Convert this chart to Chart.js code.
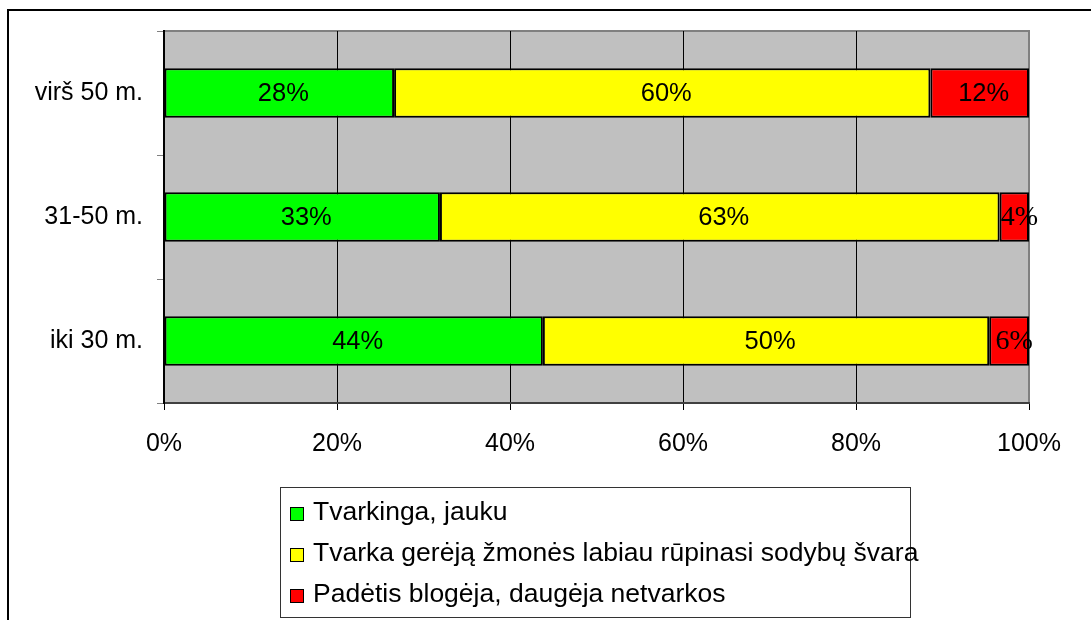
<!DOCTYPE html>
<html lang="lt">
<head>
<meta charset="utf-8">
<title>Sodybų tvarka pagal amžių</title>
<script src="https://cdn.jsdelivr.net/npm/chart.js@4/dist/chart.umd.min.js"></script>
<style>
  html, body { margin: 0; padding: 0; background: #fff; overflow: hidden; }
  #wrap { position: relative; width: 1091px; height: 620px; }
  #frame {
    position: absolute; left: 7px; top: 9px; width: 1200px; height: 800px;
    border: 2px solid #000; box-sizing: border-box;
  }
  #chartBox { position: absolute; left: 0; top: 0; width: 1091px; height: 620px; }
  #legend {
    position: absolute; left: 280px; top: 487px; width: 631px; height: 131px;
    border: 1px solid #333; box-sizing: border-box; background: #fff;
    font-family: "Liberation Sans", Arial, sans-serif; font-size: 26.5px; color: #000;
    padding-top: 3px;
  }
  .item { display: flex; align-items: center; height: 41px; white-space: nowrap; }
  .swatch { width: 12px; height: 12px; border: 1px solid #000; margin: 4px 9px 0 9px; flex: none; }
</style>
</head>
<body>
<div id="wrap">
  <div id="frame"></div>
  <div id="chartBox"><canvas id="chartAge"></canvas></div>
  <div id="legend"></div>
</div>
<script>
// ===== Duomenys =====
const categories = ['virš 50 m.', '31-50 m.', 'iki 30 m.'];
const seriesNames = [
    'Tvarkinga, jauku',
    'Tvarka gerėją žmonės labiau rūpinasi sodybų švara',
    'Padėtis blogėja, daugėja netvarkos'
];
// bar lengths as drawn (share of 100%)
const tvarkinga = [26.6, 31.9, 43.8];
const gereja    = [62.0, 64.7, 51.6];
const blogeja   = [11.4, 3.4, 4.6];
// printed labels
const tvarkingaLabels = ['28%', '33%', '44%'];
const gerejaLabels    = ['60%', '63%', '50%'];
const blogejaLabels   = ['12%', '4%', '6%'];
const xTicks = [0, 20, 40, 60, 80, 100];

const colors = ['#00ff00', '#ffff00', '#ff0000'];
const allLabels = [tvarkingaLabels, gerejaLabels, blogejaLabels];
const SANS = '"Liberation Sans", Arial, sans-serif';
const SERIF = '"Liberation Serif", "Times New Roman", serif';

// ===== Fonas ir rėmelis braižymo zonai =====
const plotBg = {
    id: 'plotBg',
    beforeDraw(chart) {
        const { ctx, chartArea: a } = chart;
        ctx.save();
        ctx.fillStyle = '#c0c0c0';
        ctx.fillRect(a.left, a.top, a.right - a.left, a.bottom - a.top);
        ctx.strokeStyle = '#808080';
        ctx.lineWidth = 2;
        ctx.beginPath();
        ctx.moveTo(a.left, a.top);
        ctx.lineTo(a.right, a.top);
        ctx.lineTo(a.right, a.bottom);
        ctx.stroke();
        ctx.restore();
    }
};

// ===== Reikšmių etiketės stulpeliuose =====
const barLabels = {
    id: 'barLabels',
    afterDatasetsDraw(chart) {
        const ctx = chart.ctx;
        ctx.save();
        ctx.fillStyle = '#000';
        ctx.textAlign = 'center';
        ctx.textBaseline = 'middle';
        chart.data.datasets.forEach((ds, d) => {
            chart.getDatasetMeta(d).data.forEach((bar, i) => {
                // mažos raudonos atkarpos turi kitokį šriftą (kaip originale)
                const serif = d === 2 && i > 0;
                ctx.font = serif ? '28px ' + SERIF : '25.5px ' + SANS;
                const cx = (bar.x + bar.base) / 2 + (serif ? 5 : 4);
                ctx.fillText(allLabels[d][i], cx, bar.y + 1);
            });
        });
        ctx.restore();
    }
};

const ctx = document.getElementById('chartAge').getContext('2d');
const chart = new Chart(ctx, {
    type: 'bar',
    data: {
        labels: categories,
        datasets: [tvarkinga, gereja, blogeja].map((vals, k) => ({
            label: seriesNames[k],
            data: vals,
            backgroundColor: colors[k],
            borderColor: '#000',
            borderWidth: 2,
            borderSkipped: false,
            categoryPercentage: 1,
            barPercentage: 0.4
        }))
    },
    options: {
        indexAxis: 'y',
        responsive: true,
        maintainAspectRatio: false,
        animation: false,
        layout: { padding: { left: 0, top: 31, right: 62, bottom: 157 } },
        plugins: { legend: { display: false }, tooltip: { enabled: false } },
        scales: {
            x: {
                stacked: true,
                min: 0,
                max: 100,
                afterFit: s => { s.height = 60; },
                afterBuildTicks: s => { s.ticks = xTicks.map(v => ({ value: v })); },
                ticks: {
                    callback: v => v + '%',
                    color: '#000',
                    padding: 19,
                    maxRotation: 0,
                    font: { family: SANS, size: 25 }
                },
                grid: {
                    color: c => (c.index === xTicks.length - 1 ? '#808080' : '#000'),
                    lineWidth: 1,
                    tickLength: 7,
                    tickColor: '#000'
                },
                border: { color: '#404040', width: 2 }
            },
            y: {
                stacked: true,
                afterFit: s => { s.width = 164; },
                ticks: {
                    color: '#000',
                    padding: 14,
                    font: { family: SANS, size: 25 }
                },
                grid: {
                    drawOnChartArea: false,
                    offset: true,
                    tickLength: 7,
                    color: '#808080'
                },
                border: { color: '#000', width: 2 }
            }
        }
    },
    plugins: [plotBg, barLabels]
});

// ===== Legenda =====
const legendEl = document.getElementById('legend');
seriesNames.forEach((name, k) => {
    const row = document.createElement('div');
    row.className = 'item';
    row.innerHTML = `<span class="swatch" style="background:${colors[k]}"></span><span>${name}</span>`;
    legendEl.appendChild(row);
});
</script>
</body>
</html>
